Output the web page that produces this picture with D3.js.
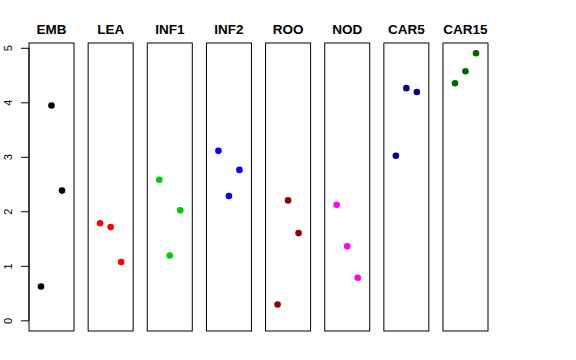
<!DOCTYPE html>
<html>
<head>
<meta charset="utf-8">
<script src="https://cdn.jsdelivr.net/npm/d3@7"></script>
<style>
  body { margin: 0; background: #fff; }
  svg { display: block; }
</style>
</head>
<body>
<div id="chart"></div>
<script>
const tissues = ['EMB', 'LEA', 'INF1', 'INF2', 'ROO', 'NOD', 'CAR5', 'CAR15']
const colors = ['#000000', '#ff0000', '#00cd00', '#0000ff', '#8b0000', '#ff00ff', '#00008b', '#006400']
// three values per tissue, in plotting order (x = 1, 2, 3)
const values = [
  [0.62, 3.94, 2.38],
  [1.78, 1.71, 1.07],
  [2.58, 1.19, 2.02],
  [3.11, 2.28, 2.76],
  [0.29, 2.20, 1.60],
  [2.12, 1.36, 0.78],
  [3.02, 4.26, 4.19],
  [4.35, 4.57, 4.90]
]
const yTicks = [0, 1, 2, 3, 4, 5]

const width = 576
const height = 360

const svg = d3
  .select('#chart')
  .append('svg')
  .attr('width', width)
  .attr('height', height)

const panelTop = 43
const panelBottom = 331

const panelScale = d3
  .scaleBand()
  .domain(tissues)
  .range([29, 488])
  .paddingInner(0.239)
  .paddingOuter(0)

const yPositionScale = d3
  .scaleLinear()
  .domain([-0.196, 5.088])
  .range([panelBottom, panelTop])

const xInPanel = d3
  .scaleLinear()
  .domain([-0.143, 4.143])
  .range([0, panelScale.bandwidth()])

tissues.forEach((t, i) => {
  const g = svg.append('g')
    .attr('transform', `translate(${panelScale(t)},0)`)

  g.selectAll('.dot')
    .data(values[i])
    .enter()
    .append('circle')
    .attr('class', 'dot')
    .attr('cx', (d, j) => xInPanel(j + 1))
    .attr('cy', d => yPositionScale(d))
    .attr('r', 3.3)
    .attr('fill', colors[i])

  g.append('rect')
    .attr('x', 0)
    .attr('y', panelTop)
    .attr('width', panelScale.bandwidth())
    .attr('height', panelBottom - panelTop)
    .attr('fill', 'none')
    .attr('stroke', '#000')
    .attr('stroke-width', 1)

  g.append('text')
    .text(t)
    .attr('x', panelScale.bandwidth() / 2)
    .attr('y', 33.5)
    .attr('text-anchor', 'middle')
    .attr('font-family', 'Liberation Sans, Arial, sans-serif')
    .attr('font-weight', 'bold')
    .attr('font-size', 13.5)
    .attr('fill', '#000')
})

/* y axis on the first panel */
const yAxis = d3.axisLeft(yPositionScale)
  .tickValues(yTicks)
  .tickSize(8)
  .tickPadding(0)
  .tickFormat(d3.format('d'))

const axisG = svg.append('g')
  .attr('class', 'axis y-axis')
  .attr('transform', `translate(${panelScale(tissues[0])},0)`)
  .call(yAxis)

axisG.select('.domain').remove()
axisG.append('line')
  .attr('x1', 0).attr('x2', 0)
  .attr('y1', yPositionScale(0)).attr('y2', yPositionScale(5))
  .attr('stroke', '#000')

axisG.selectAll('.tick line').attr('stroke', '#000')
axisG.selectAll('.tick text')
  .attr('x', 0)
  .attr('dy', 0)
  .attr('transform', 'translate(-17,0) rotate(-90)')
  .attr('text-anchor', 'middle')
  .attr('font-family', 'Liberation Sans, Arial, sans-serif')
  .attr('font-size', 11)
  .attr('fill', '#000')
</script>
</body>
</html>
